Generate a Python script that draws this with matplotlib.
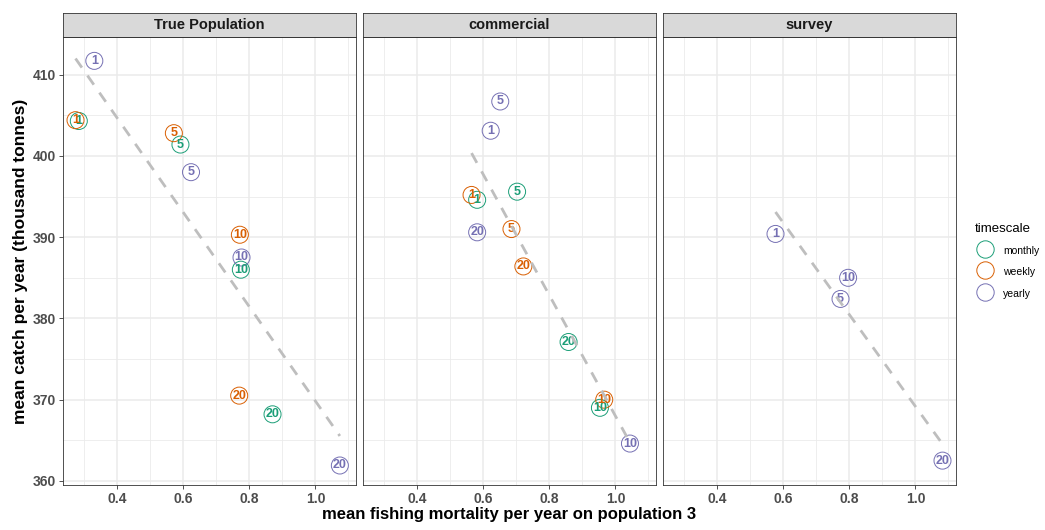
import numpy as np
import matplotlib
matplotlib.use("Agg")
import matplotlib.pyplot as plt
from matplotlib.lines import Line2D

plt.rcParams['font.family'] = ['Liberation Sans', 'DejaVu Sans']

# panels and colour groups
panels = ["True Population", "commercial", "survey"]
timescales = ["monthly", "weekly", "yearly"]
colours = {"monthly": "#1B9E77", "weekly": "#D95F02", "yearly": "#7570B3"}
labels = ["1", "5", "10", "20"]

# mean fishing mortality (x) and mean catch in thousand tonnes (y), per panel and timescale
true_monthly_x = [0.283, 0.591, 0.774, 0.870]
true_monthly_y = [404.3, 401.4, 386.0, 368.2]
true_weekly_x = [0.273, 0.571, 0.771, 0.769]
true_weekly_y = [404.4, 402.8, 390.3, 370.5]
true_yearly_x = [0.330, 0.623, 0.776, 1.074]
true_yearly_y = [411.7, 398.0, 387.5, 361.9]

comm_monthly_x = [0.581, 0.702, 0.953, 0.858]
comm_monthly_y = [394.6, 395.6, 369.0, 377.1]
comm_weekly_x = [0.564, 0.685, 0.966, 0.721]
comm_weekly_y = [395.2, 391.0, 370.0, 386.4]
comm_yearly_x = [0.622, 0.651, 1.044, 0.581]
comm_yearly_y = [403.1, 406.7, 364.6, 390.6]

surv_yearly_x = [0.576, 0.773, 0.796, 1.082]
surv_yearly_y = [390.4, 382.4, 385.0, 362.5]

data = {
    "True Population": {
        "monthly": (true_monthly_x, true_monthly_y),
        "weekly": (true_weekly_x, true_weekly_y),
        "yearly": (true_yearly_x, true_yearly_y),
    },
    "commercial": {
        "monthly": (comm_monthly_x, comm_monthly_y),
        "weekly": (comm_weekly_x, comm_weekly_y),
        "yearly": (comm_yearly_x, comm_yearly_y),
    },
    "survey": {
        "yearly": (surv_yearly_x, surv_yearly_y),
    },
}

W, H = 1045, 530
fig = plt.figure(figsize=(W / 100, H / 100), dpi=100)

xlim = (0.236, 1.122)
ylim = (359.5, 414.6)
xticks = [0.4, 0.6, 0.8, 1.0]
yticks = [360, 370, 380, 390, 400, 410]

panel_left = 63.3
panel_w = 292.4
panel_top = 37.3
panel_bot = 485.0
strip_top = 13.3

for i, name in enumerate(panels):
    left = panel_left + 300 * i
    ax = fig.add_axes([left / W, 1 - panel_bot / H, panel_w / W, (panel_bot - panel_top) / H])
    ax.set_xlim(*xlim)
    ax.set_ylim(*ylim)

    ax.set_xticks(xticks)
    ax.set_xticks([0.3, 0.5, 0.7, 0.9, 1.1], minor=True)
    ax.set_yticks(yticks)
    ax.set_yticks([365, 375, 385, 395, 405], minor=True)
    ax.grid(which="major", color="#EBEBEB", lw=1.1)
    ax.grid(which="minor", color="#EBEBEB", lw=0.6)
    ax.set_axisbelow(True)
    for s in ax.spines.values():
        s.set_color("#333333")
        s.set_linewidth(0.6)
    ax.tick_params(which="minor", length=0)
    ax.tick_params(which="major", length=3, width=0.6, color="#333333",
                   labelsize=10, labelcolor="#4D4D4D", pad=2)
    ax.set_xticklabels([f"{t:.1f}" for t in xticks], fontweight="bold")
    if i == 0:
        ax.set_yticklabels([str(t) for t in yticks], fontweight="bold")
    else:
        ax.tick_params(axis="y", left=False, labelleft=False)

    all_x, all_y = [], []
    for ts, (xs, ys) in data[name].items():
        ax.scatter(xs, ys, s=150, facecolors="none", edgecolors=colours[ts],
                   linewidths=0.7, zorder=3)
        all_x += xs
        all_y += ys
    for ts, (xs, ys) in data[name].items():
        for lab, x, y in zip(labels, xs, ys):
            ax.text(x, y, lab, color=colours[ts], fontsize=9, fontweight="bold",
                    ha="center", va="center", zorder=4)

    # linear fit across every point in the panel
    slope, icpt = np.polyfit(all_x, all_y, 1)
    fx = np.array([min(all_x), max(all_x)])
    ax.plot(fx, icpt + slope * fx, color="#BEBEBE", lw=2.0, dashes=(4, 3.5), zorder=5)

    # facet strip
    sax = fig.add_axes([left / W, 1 - panel_top / H, panel_w / W, (panel_top - strip_top) / H])
    sax.set_facecolor("#D9D9D9")
    sax.set_xticks([])
    sax.set_yticks([])
    for s in sax.spines.values():
        s.set_color("#333333")
        s.set_linewidth(0.6)
    sax.text(0.5, 0.5, name, ha="center", va="center", fontsize=10.5,
             fontweight="bold", color="#1A1A1A", transform=sax.transAxes)

centre_x = (panel_left + 600 + panel_w + panel_left) / 2
fig.text(centre_x / W, 1 - 514 / H, "mean fishing mortality per year on population 3",
         ha="center", va="center", fontsize=12, fontweight="bold")
fig.text(21 / W, 1 - (panel_top + panel_bot) / 2 / H, "mean catch per year (thousand tonnes)",
         ha="center", va="center", rotation=90, fontsize=12.5, fontweight="bold")

handles = [Line2D([], [], marker="o", ls="none", markersize=12.5, markerfacecolor="none",
                  markeredgecolor=colours[ts], markeredgewidth=0.7) for ts in timescales]
fig.legend(handles, timescales, title="timescale", loc="center left",
           bbox_to_anchor=(975 / W, 1 - 261 / H), frameon=False, fontsize=7.5,
           title_fontsize=9.5, alignment="left", handletextpad=0.7,
           labelspacing=0.9, handlelength=2.0, handleheight=1.4, borderaxespad=0,
           borderpad=0)

fig.savefig("out.png", dpi=100)
